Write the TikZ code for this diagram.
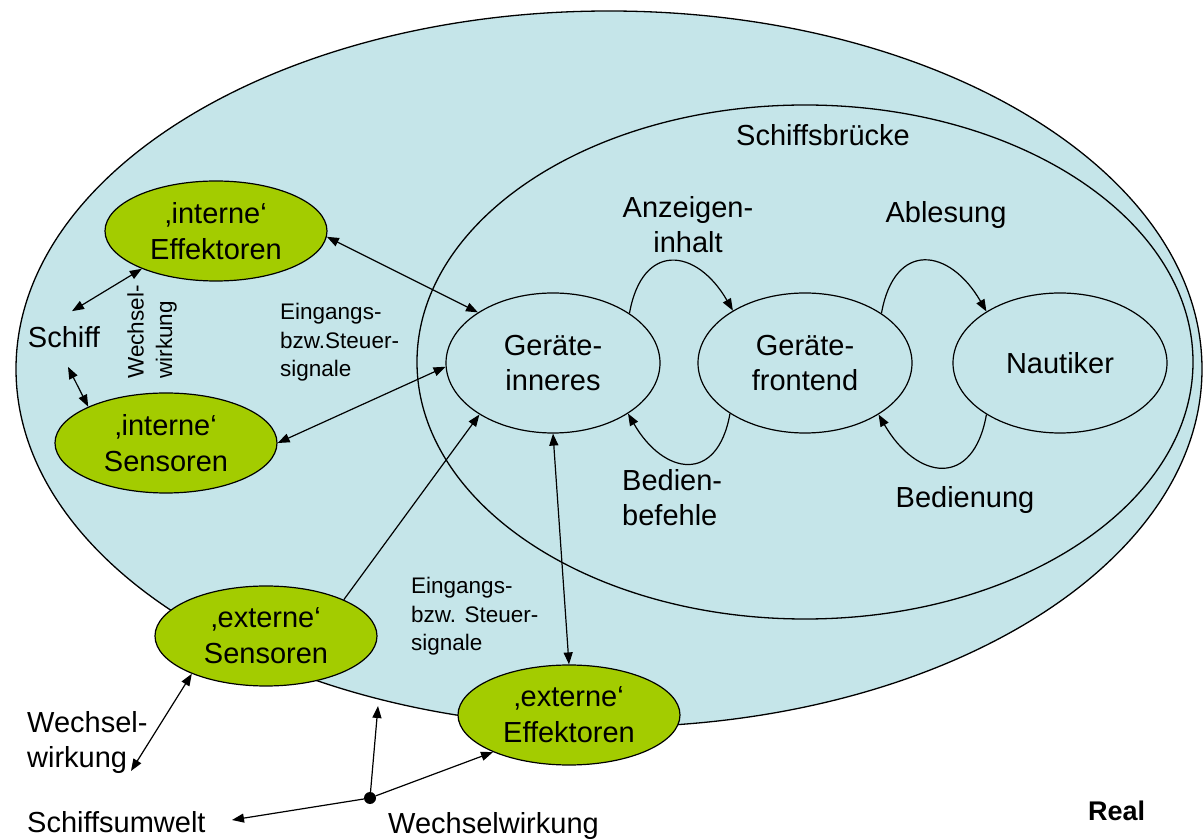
\documentclass[tikz,border=0pt]{standalone}
\usepackage{fontspec}
\setmainfont{Liberation Sans}
\usetikzlibrary{arrows.meta,shapes.geometric}
\definecolor{shipblue}{RGB}{197,229,233}
\definecolor{unitgreen}{RGB}{163,204,0}

\begin{document}
\begin{tikzpicture}[x=1pt,y=1pt,
  bigtext/.style={font=\fontsize{29}{35}\selectfont},
  smalltext/.style={font=\fontsize{22.5}{28.5}\selectfont},
  device/.style={ellipse, draw, line width=1.2pt, minimum width=214pt,
    minimum height=140pt, inner sep=0pt, align=center, bigtext},
  unit/.style={ellipse, draw, line width=1.2pt, fill=unitgreen,
    minimum width=222pt, minimum height=100pt, inner sep=0pt, align=center,
    font=\fontsize{29}{36}\selectfont},
  link/.style={line width=1.2pt,
    {Triangle[length=12pt,width=9pt]}-{Triangle[length=12pt,width=9pt]}},
  flow/.style={line width=1.2pt, -{Triangle[length=12pt,width=9pt]}},
]
\useasboundingbox (0,0) rectangle (1203,839);

% ship and bridge
\draw[fill=shipblue, line width=1.3pt] (609,470) ellipse [x radius=593, y radius=358];
\draw[line width=1.3pt] (805,477) ellipse [x radius=388, y radius=257];
\node[bigtext] (bridge) at (823,704) {Schiffsbrücke};

% devices on the bridge
\node[device] (inner) at (553,476) {Geräte-\\inneres};
\node[device] (front) at (805,476) {Geräte-\\frontend};
\node[device] (naut)  at (1060,476) {Nautiker};

% sensors and effectors
\node[unit] (intEff) at (216,608) {‚interne‘\\Effektoren};
\node[unit] (intSen) at (166,396) {‚interne‘\\Sensoren};
\node[unit] (extSen) at (266,203) {‚externe‘\\Sensoren};
\node[unit] (extEff) at (569,124) {‚externe‘\\Effektoren};

% labels
\node[bigtext, inner xsep=2pt, inner ysep=15pt] (schiff) at (64,502) {Schiff};
\node[smalltext, align=left, rotate=90, inner sep=0pt] (wwship) at (152,507) {Wechsel-\\wirkung};
\node[smalltext, align=left, anchor=north west, inner sep=0pt] (sigtop) at (280,536) {Eingangs-\\bzw.Steuer-\\signale};
\node[smalltext, align=left, anchor=north west, inner sep=0pt] (sigbot) at (411,262) {Eingangs-\\bzw. Steuer-\\signale};
\node[bigtext, align=center] (anz) at (688,614) {Anzeigen-\\inhalt};
\node[bigtext, anchor=base] (ables) at (946,616) {Ablesung};
\node[bigtext, align=left, anchor=north west, inner sep=0pt] (bbef) at (622,370) {Bedien-\\befehle};
\node[bigtext, anchor=base] (bedng) at (965,331) {Bedienung};
\node[bigtext, align=left, anchor=north west, inner sep=0pt] (wwenv) at (27,128) {Wechsel-\\wirkung};
\node[bigtext, anchor=base west, inner sep=0pt] (umwelt) at (27,7) {Schiffsumwelt};
\node[bigtext, anchor=base west, inner sep=0pt] (wwhub) at (388,6) {Wechselwirkung};
\node[font=\fontsize{27}{32}\selectfont\bfseries, anchor=base west, inner sep=0pt] (real) at (1088,19) {Real};

% interaction hub
\node[circle, fill=black, inner sep=0pt, minimum size=12pt] (hub) at (370,41) {};
\coordinate (umweltTip) at (232,19);
\coordinate (upTip) at (378,133);
\coordinate (wwTip) at (131,68);

% signal connectors
\draw[link] (intEff.-3) -- (inner.146);
\draw[link] (inner.182) -- (intSen.0);
\draw[link] ([xshift=8pt]schiff.north) -- (intEff.207);
\draw[link] ([xshift=4pt,yshift=-4pt]schiff.south) -- (intSen.155);
\draw[flow] (extSen.25) -- (inner.215);
\draw[link] (inner.270) -- (extEff.90);

% loops between device, frontend and navigator
\draw[flow] (inner.33) to[out=80,in=120,looseness=1.8] (front.144);
\draw[flow] (front.214) to[out=-100,in=-60,looseness=1.8] (inner.-34);
\draw[flow] (front.33) to[out=80,in=120,looseness=1.8] (naut.145);
\draw[flow] (naut.215) to[out=-100,in=-60,looseness=1.8] (front.-35);

% environment interactions
\draw[link] (wwTip) -- (extSen.207);
\draw[flow] (hub) -- (umweltTip);
\draw[flow] (hub) -- (upTip);
\draw[flow] (hub) -- (extEff.206);
\end{tikzpicture}
\end{document}
